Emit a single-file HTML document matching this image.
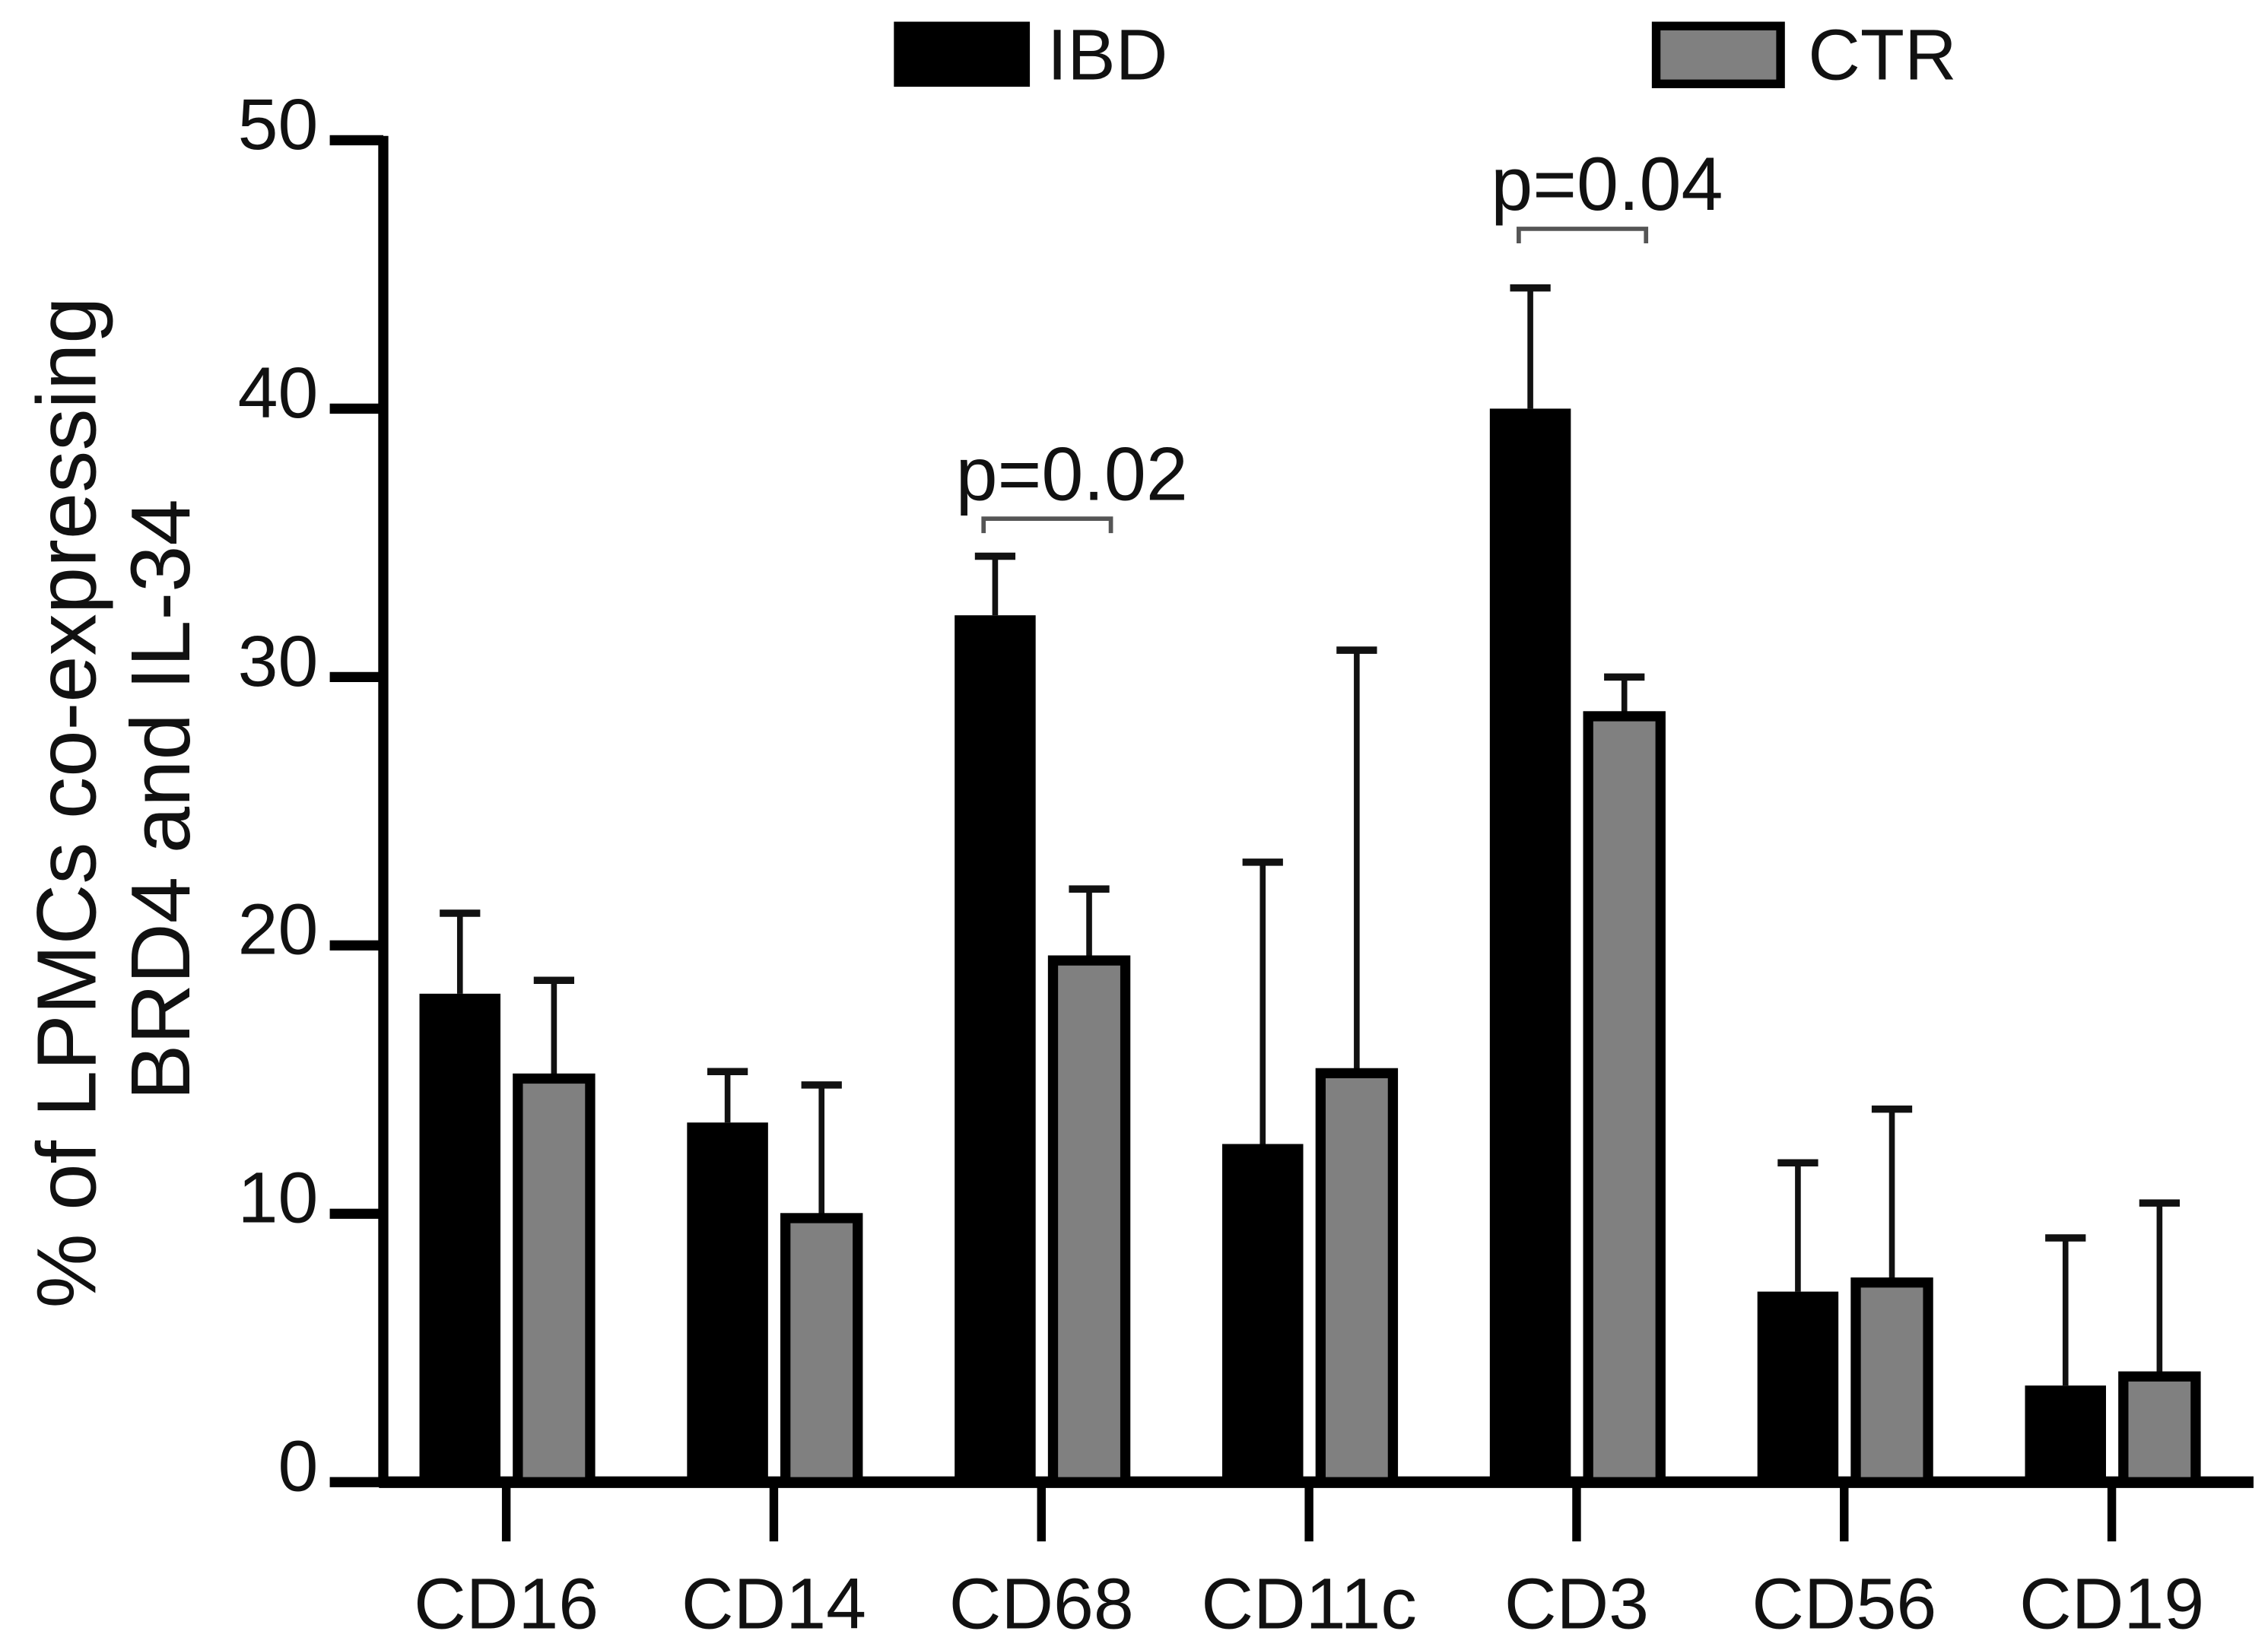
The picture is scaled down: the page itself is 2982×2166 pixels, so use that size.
<!DOCTYPE html>
<html><head><meta charset="utf-8"><style>
html,body{margin:0;padding:0;background:#fff}
svg{display:block}
text{font-family:"Liberation Sans",Arial,sans-serif;fill:#111}
</style></head><body>
<svg id="chart" width="2982" height="2166" viewBox="0 0 1568 1139" preserveAspectRatio="none" xmlns="http://www.w3.org/2000/svg">
<g id="legend">
  <rect x="618" y="15" width="94" height="45" fill="#000"/>
  <text x="724" y="55" font-size="50">IBD</text>
  <rect x="1145" y="18" width="86" height="40" fill="#808080" stroke="#000" stroke-width="6"/>
  <text x="1250" y="55" font-size="50">CTR</text>
</g>
<g id="yaxis"></g>
<g id="xaxis"></g>
<g id="bars"></g>
<g id="annot"></g>
<g>
  <text x="0" y="0" font-size="58" text-anchor="middle" transform="translate(66,555) rotate(-90)">% of LPMCs co-expressing</text>
  <text x="0" y="0" font-size="58" text-anchor="middle" transform="translate(131,553) rotate(-90)">BRD4 and IL-34</text>
</g>
</svg>
<script>
const categories = ["CD16","CD14","CD68","CD11c","CD3","CD56","CD19"];
const ibdValues = [18.2,13.4,32.3,12.6,40.0,7.1,3.6];
const ibdErrTop = [21.2,15.3,34.5,23.1,44.5,11.9,9.1];
const ctrValues = [15.2,10.0,19.6,15.4,28.7,7.6,4.1];
const ctrErrTop = [18.7,14.8,22.1,31.0,30.0,13.9,10.4];
const yTicks = [0,10,20,30,40,50];
const pLabels = ["p=0.02","p=0.04"];
const pCategory = [2,4];
const pLevel = [35.9,46.7];

const NS="http://www.w3.org/2000/svg";
const x0=265, x1=1558, y0=1025, yTop=97, yMax=50;
const y=v=>y0-(y0-yTop)*v/yMax;
const step=185, firstX=350;
const xc=i=>firstX+i*step;
function mk(parent,tag,attrs){const e=document.createElementNS(NS,tag);for(const k in attrs)e.setAttribute(k,attrs[k]);document.getElementById(parent).appendChild(e);return e;}

let e=mk('yaxis','line',{x1:x0,y1:yTop-3,x2:x0,y2:y0+3,stroke:'#000','stroke-width':7});


yTicks.forEach(t=>{
  let l=mk('yaxis','line',{x1:228,y1:y(t),x2:x0,y2:y(t),stroke:'#000','stroke-width':7});
  
  
  let tx=mk('yaxis','text',{x:220,y:y(t)+6,'font-size':50,'text-anchor':'end'});
  tx.textContent=t;
  
  
});
e=mk('xaxis','line',{x1:x0-3,y1:y0,x2:x1,y2:y0,stroke:'#000','stroke-width':8});


categories.forEach((c,i)=>{
  let l=mk('xaxis','line',{x1:xc(i),y1:y0,x2:xc(i),y2:1066,stroke:'#000','stroke-width':6});
  
  
  let tx=mk('xaxis','text',{x:xc(i),y:1126,'font-size':50,'text-anchor':'middle'});
  tx.textContent=c;
  
  
});
const bw=56;
function bar(i,val,err,ctr){
  const left=ctr? xc(i)+5 : xc(i)-60;
  const cx=left+bw/2;
  let ln=mk('bars','line',{x1:cx,y1:y(err),x2:cx,y2:y(val),stroke:'#111','stroke-width':4});
  
  
  let cap=mk('bars','line',{x1:cx-14,y1:y(err),x2:cx+14,y2:y(err),stroke:'#111','stroke-width':5});
  
  
  let r;
  if(ctr){
    r=mk('bars','rect',{x:left+3,y:y(val)+3,width:bw-6,height:y0-y(val)-3,fill:'#808080',stroke:'#000','stroke-width':7});
  } else {
    r=mk('bars','rect',{x:left,y:y(val),width:bw,height:y0-y(val),fill:'#000'});
  }
  
  
}
categories.forEach((c,i)=>{bar(i,ibdValues[i],ibdErrTop[i],false);bar(i,ctrValues[i],ctrErrTop[i],true);});
pLabels.forEach((p,k)=>{
  const i=pCategory[k], ly=y(pLevel[k]);
  const a=xc(i)-40, b=xc(i)+48;
  let pl=mk('annot','polyline',{points:`${a},${ly+10} ${a},${ly} ${b},${ly} ${b},${ly+10}`,fill:'none',stroke:'#555','stroke-width':3});
  
  
  let tx=mk('annot','text',{x:(a+b)/2+17,y:ly-13,'font-size':52,'text-anchor':'middle'});
  tx.textContent=p;
  
  
});
</script>
</body></html>
